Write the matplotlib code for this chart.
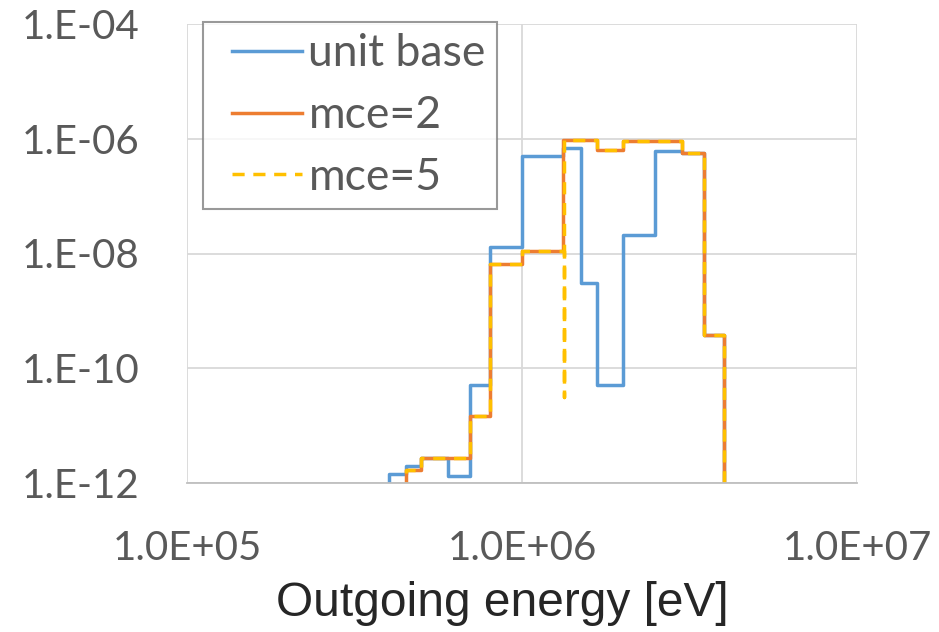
import matplotlib
matplotlib.use('Agg')
import matplotlib.pyplot as plt
from matplotlib.legend_handler import HandlerLine2D

# bin edges [eV] and bin values
edges_unit = [4.0e5, 4.5e5, 5.0e5, 6.0e5, 7.0e5, 8.0e5, 1.0e6, 1.33e6, 1.5e6,
              1.67e6, 2.0e6, 2.5e6, 3.0e6, 3.5e6, 4.0e6]
vals_unit = [1.45e-12, 1.95e-12, 2.7e-12, 1.3e-12, 5.1e-11, 1.3e-8, 5.0e-7,
             6.8e-7, 3.1e-9, 5.1e-11, 2.1e-8, 6.0e-7, 5.75e-7, 3.8e-10]

edges_mce2 = [4.5e5, 5.0e5, 7.0e5, 8.0e5, 1.0e6, 1.33e6, 1.67e6, 2.0e6,
              3.0e6, 3.5e6, 4.0e6]
vals_mce2 = [1.7e-12, 2.7e-12, 1.5e-11, 6.6e-9, 1.1e-8, 9.5e-7, 6.3e-7,
             9.3e-7, 5.75e-7, 3.8e-10]

edges_mce5 = [4.5e5, 5.0e5, 7.0e5, 8.0e5, 1.0e6, 1.331e6, 1.333e6, 1.67e6,
              2.0e6, 3.0e6, 3.5e6, 4.0e6]
vals_mce5 = [1.7e-12, 2.7e-12, 1.5e-11, 6.6e-9, 1.1e-8, 3.2e-11, 9.5e-7,
             6.3e-7, 9.3e-7, 5.75e-7, 3.8e-10]

x_ticks = [1e5, 1e6, 1e7]
x_labels = ['1.0E+05', '1.0E+06', '1.0E+07']
y_ticks = [1e-12, 1e-10, 1e-8, 1e-6, 1e-4]
y_labels = ['1.E-12', '1.E-10', '1.E-08', '1.E-06', '1.E-04']

FLOOR = 1e-14  # below the axis, so the step drops out of view


def step_xy(edges, vals):
    xs = [edges[0]] + list(edges)
    ys = [FLOOR] + list(vals) + [FLOOR]
    return xs, ys


class ShiftedLine(HandlerLine2D):
    # legend line starts a bit right of the frame padding (like Excel)
    def get_xdata(self, legend, xdescent, ydescent, width, height, fontsize):
        shift = 0.4 * fontsize
        x = [-xdescent + shift, -xdescent + width]
        return x, x


plt.rcParams['font.family'] = ['Lato', 'DejaVu Sans']
text_col = '#595959'
fs = 29

fig = plt.figure(figsize=(9.39, 6.32), dpi=100)
ax = fig.add_axes([187 / 939, 1 - 483 / 632, (857 - 187) / 939, (483 - 24) / 632])

lw = 2.5
x, y = step_xy(edges_unit, vals_unit)
l1, = ax.step(x, y, where='post', color='#5B9BD5', lw=lw, label='unit base')
x, y = step_xy(edges_mce2, vals_mce2)
l2, = ax.step(x, y, where='post', color='#ED7D31', lw=lw, label='mce=2')
x, y = step_xy(edges_mce5, vals_mce5)
l3, = ax.step(x, y, where='post', color='#FFC000', lw=lw, dashes=(3.5, 2.5), label='mce=5')

ax.set_xscale('log')
ax.set_yscale('log')
ax.set_xlim(1e5, 1e7)
ax.set_ylim(1e-12, 1e-4)
ax.set_xticks(x_ticks)
ax.set_xticklabels(x_labels)
ax.set_yticks(y_ticks)
ax.set_yticklabels(y_labels)
ax.minorticks_off()
ax.tick_params(length=0, labelsize=fs, labelcolor=text_col)
ax.tick_params(axis='x', pad=34)
ax.tick_params(axis='y', pad=34)

ax.grid(True, color='#D9D9D9', lw=1.3)
ax.set_axisbelow(True)
for s in ['top', 'right', 'left']:
    ax.spines[s].set_visible(False)
ax.spines['bottom'].set_color('#BFBFBF')
ax.spines['bottom'].set_linewidth(1.3)

ax.set_xlabel('Outgoing energy [eV]', fontsize=34.5, color='#262626', labelpad=10,
              family='Liberation Sans')
ax.xaxis.label.set_x((502 - 187) / 670)

hm = {l: ShiftedLine() for l in (l1, l2, l3)}
leg = ax.legend(loc='upper left', bbox_to_anchor=(0.024, 1.004), fontsize=32,
                handler_map=hm, frameon=True, fancybox=False,
                handlelength=1.98, handletextpad=0.14,
                labelspacing=0.47, borderpad=0.25, borderaxespad=0)
leg.get_frame().set_edgecolor('#808080')
leg.get_frame().set_linewidth(1.5)
for t in leg.get_texts():
    t.set_color(text_col)

fig.savefig('out.png', dpi=100)
